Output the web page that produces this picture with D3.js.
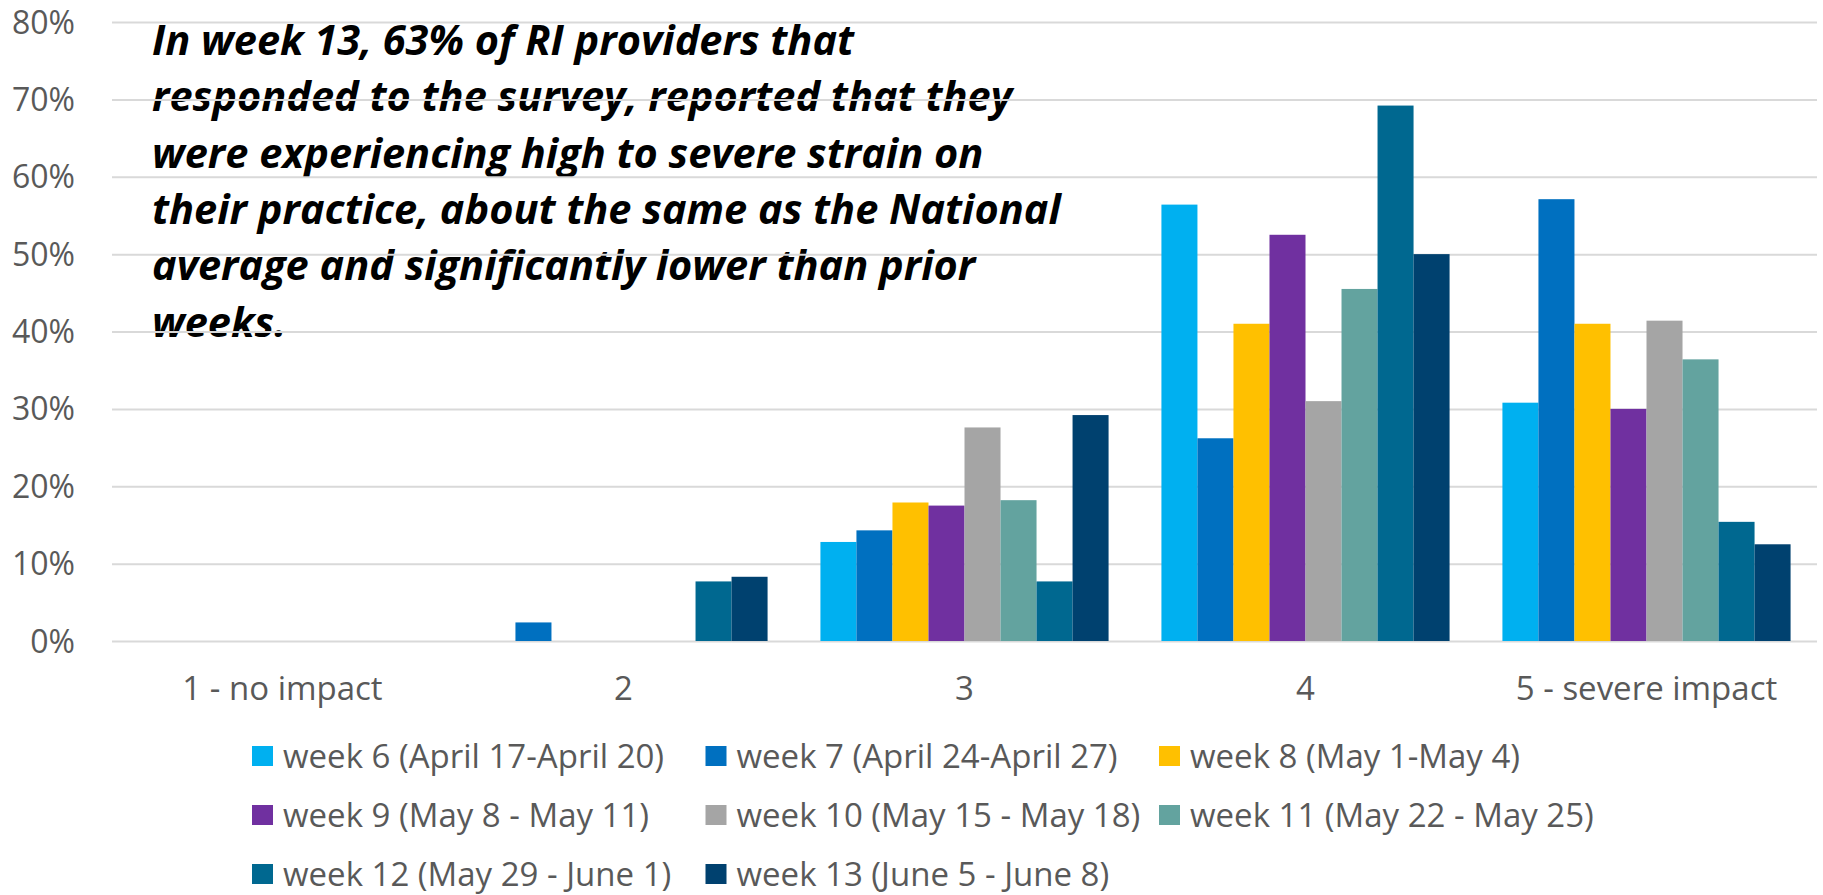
<!DOCTYPE html>
<html>
<head>
<meta charset="utf-8">
<script src="https://cdn.jsdelivr.net/npm/d3@7"></script>
<style>
  body { margin: 0; background: #fff; }
  svg { display: block; }
  .tick-label, .legend text { font-family: 'Open Sans', sans-serif; fill: #595959; }
  .note { font-family: 'Open Sans', sans-serif; font-weight: 700; font-style: italic; fill: #000; }
  .grid line { stroke: #d9d9d9; stroke-width: 2; }
</style>
</head>
<body>
<div id="chart"></div>
<script>
const categories = ['1 - no impact', '2', '3', '4', '5 - severe impact']
const weeks = [
  'week 6 (April 17-April 20)',
  'week 7 (April 24-April 27)',
  'week 8 (May 1-May 4)',
  'week 9 (May 8 - May 11)',
  'week 10 (May 15 - May 18)',
  'week 11 (May 22 - May 25)',
  'week 12 (May 29 - June 1)',
  'week 13 (June 5 - June 8)',
]
// percent of providers per impact level, one array per week
const week6 = [0, 0, 12.8, 56.4, 30.8]
const week7 = [0, 2.4, 14.3, 26.2, 57.1]
const week8 = [0, 0, 17.9, 41.0, 41.0]
const week9 = [0, 0, 17.5, 52.5, 30.0]
const week10 = [0, 0, 27.6, 31.0, 41.4]
const week11 = [0, 0, 18.2, 45.5, 36.4]
const week12 = [0, 7.7, 7.7, 69.2, 15.4]
const week13 = [0, 8.3, 29.2, 50.0, 12.5]
const yTicks = [0, 10, 20, 30, 40, 50, 60, 70, 80]
const noteLines = [
  'In week 13, 63% of RI providers that',
  'responded to the survey, reported that they',
  'were experiencing high to severe strain on',
  'their practice, about the same as the National',
  'average and significantly lower than prior',
  'weeks.',
]

const colors = ['#00b0f0', '#0070c0', '#ffc000', '#7030a0', '#a5a5a5', '#63a39f', '#006890', '#00416f']
const series = [week6, week7, week8, week9, week10, week11, week12, week13]

const width = 1823
const height = 895
const plot = { left: 112, right: 1817, top: 22, bottom: 641 }

const svg = d3
  .select('#chart')
  .append('svg')
  .attr('width', width)
  .attr('height', height)
  .attr('viewBox', `0 0 ${width} ${height}`)

const x0 = d3
  .scaleBand()
  .domain(categories)
  .range([plot.left, plot.right])
  .paddingInner(0.155)
  .paddingOuter(0.0775)

const x1 = d3.scaleBand().domain(weeks).range([0, x0.bandwidth()])

const y = d3.scaleLinear().domain([0, 80]).range([plot.bottom, plot.top])

// annotation sits under the gridlines, like the original text box
svg
  .append('g')
  .selectAll('text')
  .data(noteLines)
  .enter()
  .append('text')
  .attr('class', 'note')
  .attr('x', 152)
  .attr('y', (d, i) => 55 + i * 56.3)
  .style('font-size', '41.5px')
  .text((d) => d)

svg
  .append('g')
  .attr('class', 'grid')
  .attr('transform', `translate(${plot.left},0)`)
  .call(d3.axisLeft(y).tickValues(yTicks).tickSize(-(plot.right - plot.left)).tickFormat(''))
  .call((g) => g.select('.domain').remove())

svg
  .append('g')
  .selectAll('text')
  .data(yTicks)
  .enter()
  .append('text')
  .attr('class', 'tick-label')
  .attr('x', 75)
  .attr('y', (d) => y(d))
  .attr('dy', '0.36em')
  .attr('text-anchor', 'end')
  .style('font-size', '32px')
  .text((d) => d + '%')

const rows = categories.map((c, i) => ({ category: c, values: series.map((s) => s[i]) }))

svg
  .append('g')
  .selectAll('g')
  .data(rows)
  .enter()
  .append('g')
  .attr('transform', (d) => `translate(${x0(d.category)},0)`)
  .selectAll('rect')
  .data((d) => d.values.map((v, i) => ({ week: weeks[i], value: v, color: colors[i] })))
  .enter()
  .append('rect')
  .attr('x', (d) => x1(d.week))
  .attr('width', x1.bandwidth())
  .attr('y', (d) => y(d.value))
  .attr('height', (d) => y(0) - y(d.value))
  .attr('fill', (d) => d.color)

svg
  .append('g')
  .selectAll('text')
  .data(categories)
  .enter()
  .append('text')
  .attr('class', 'tick-label')
  .attr('x', (d) => x0(d) + x0.bandwidth() / 2)
  .attr('y', 700)
  .attr('text-anchor', 'middle')
  .style('font-size', '33px')
  .text((d) => d)

// legend: three columns, Excel style
const legend = svg.append('g').attr('class', 'legend')
const item = legend
  .selectAll('g')
  .data(weeks)
  .enter()
  .append('g')
  .attr('transform', (d, i) => `translate(${252 + (i % 3) * 453.5},${756 + Math.floor(i / 3) * 59})`)

item
  .append('rect')
  .attr('x', 0)
  .attr('y', -10)
  .attr('width', 21)
  .attr('height', 20)
  .attr('fill', (d, i) => colors[i])

item
  .append('text')
  .attr('x', 31)
  .attr('dy', '0.36em')
  .style('font-size', '33px')
  .text((d) => d)
</script>
</body>
</html>
